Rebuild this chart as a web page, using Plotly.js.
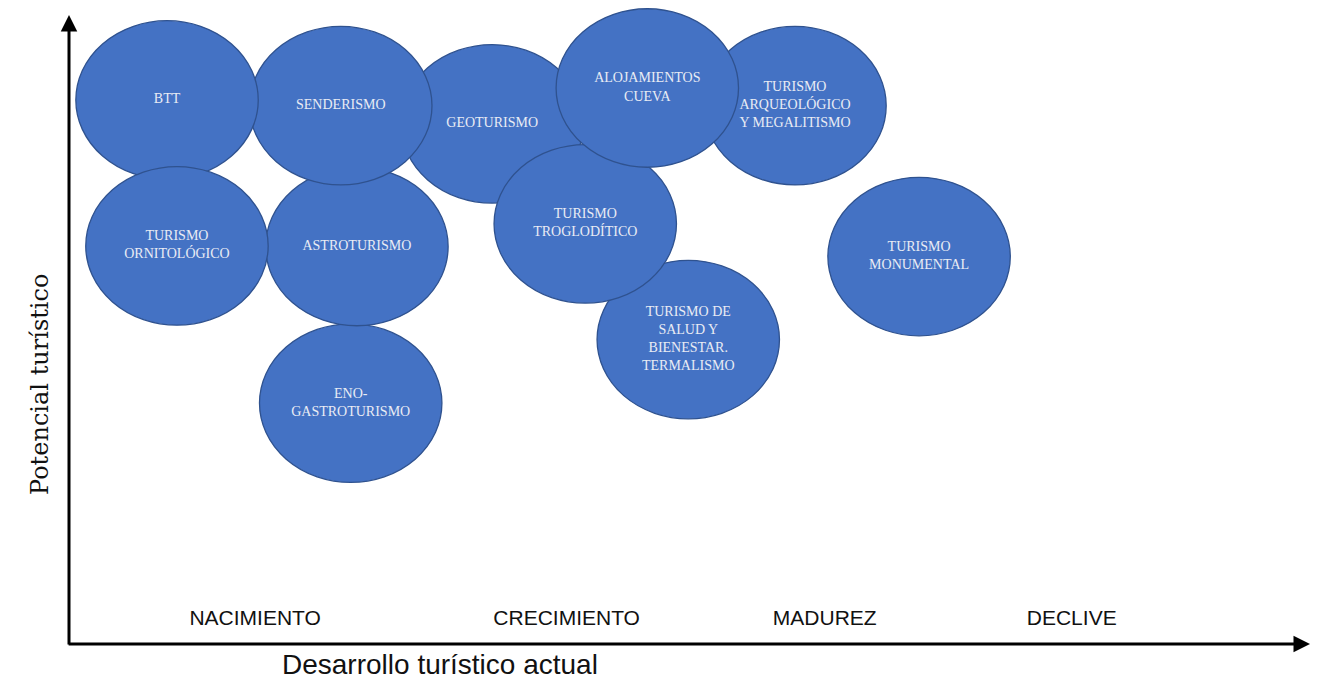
<!DOCTYPE html>
<html>
<head>
<meta charset="utf-8">
<script src="https://cdn.plot.ly/plotly-3.0.1.min.js"></script>
<style>
  html, body { margin: 0; padding: 0; background: #fff; }
  #plot { width: 1328px; height: 679px; }
</style>
</head>
<body>
<div id="plot"></div>
<script>
// products, in drawing order (later ones sit on top)
var products = [
  "GEOTURISMO",
  "ENO-<br>GASTROTURISMO",
  "ASTROTURISMO",
  "SENDERISMO",
  "BTT",
  "TURISMO<br>ORNITOLÓGICO",
  "TURISMO DE<br>SALUD Y<br>BIENESTAR.<br>TERMALISMO",
  "TURISMO<br>TROGLODÍTICO",
  "TURISMO<br>ARQUEOLÓGICO<br>Y MEGALITISMO",
  "ALOJAMIENTOS<br>CUEVA",
  "TURISMO<br>MONUMENTAL"
];
// current tourist development (0-100)
var desarrollo = [34.1, 22.7, 23.2, 21.9, 7.9, 8.7, 49.9, 41.6, 58.5, 46.6, 68.5];
// tourist potential (0-100)
var potencial = [82.7, 38.3, 63.2, 85.6, 86.5, 63.3, 48.4, 66.8, 85.6, 88.4, 61.6];

// life-cycle stages along the x axis
var etapas = ["NACIMIENTO", "CRECIMIENTO", "MADUREZ", "DECLIVE"];
var etapaX = [15.0, 40.1, 60.9, 80.8];

var RX = 7.35, RY = 12.6;

var shapes = products.map(function (p, i) {
  return {
    type: "circle", xref: "x", yref: "y", layer: "below",
    x0: desarrollo[i] - RX, x1: desarrollo[i] + RX,
    y0: potencial[i] - RY, y1: potencial[i] + RY,
    fillcolor: "#4472C4",
    line: { color: "#2F528F", width: 1.3 }
  };
});

var labels = {
  x: desarrollo, y: potencial, text: products,
  mode: "text", type: "scatter", hoverinfo: "skip",
  textposition: "middle center",
  textfont: { family: "Liberation Serif, serif", size: 14, color: "#E9ECF4" }
};

var stages = {
  x: etapaX, y: etapaX.map(function () { return 3.8; }),
  text: etapas, mode: "text", type: "scatter", hoverinfo: "skip",
  textposition: "middle center",
  textfont: { family: "Liberation Sans, sans-serif", size: 21, color: "#111" }
};

var L = 69, R = 18, T = 5, B = 35;
var pw = 1328 - L - R, ph = 679 - T - B;

var layout = {
  width: 1328, height: 679,
  margin: { l: L, r: R, t: T, b: B },
  paper_bgcolor: "#fff", plot_bgcolor: "#fff",
  showlegend: false,
  xaxis: { range: [0, 100], showgrid: false, zeroline: false, showticklabels: false, showline: false, fixedrange: true },
  yaxis: { range: [0, 101.6], showgrid: false, zeroline: false, showticklabels: false, showline: false, fixedrange: true },
  shapes: shapes,
  annotations: [
    // x axis arrow
    { x: 100, y: 0, ax: -0.15, ay: 0, xref: "x", yref: "y", axref: "x", ayref: "y",
      text: "", showarrow: true, arrowhead: 2, arrowsize: 1.1, arrowwidth: 3, arrowcolor: "#000", standoff: 0 },
    // y axis arrow
    { x: 0, y: 100, ax: 0, ay: -0.3, xref: "x", yref: "y", axref: "x", ayref: "y",
      text: "", showarrow: true, arrowhead: 2, arrowsize: 1.1, arrowwidth: 3, arrowcolor: "#000", standoff: 0 },
    { x: (440 - L) / pw, y: (679 - B - 664) / ph, xref: "paper", yref: "paper",
      xanchor: "center", yanchor: "middle", text: "Desarrollo turístico actual",
      showarrow: false, font: { family: "Liberation Sans, sans-serif", size: 28, color: "#111" } },
    { x: (40 - L) / pw, y: (679 - B - 385) / ph, xref: "paper", yref: "paper",
      xanchor: "center", yanchor: "middle", text: "Potencial turístico", textangle: -90,
      showarrow: false, font: { family: "DejaVu Serif, serif", size: 24, color: "#111" } }
  ]
};

Plotly.newPlot("plot", [labels, stages], layout, { staticPlot: true });
</script>
</body>
</html>
